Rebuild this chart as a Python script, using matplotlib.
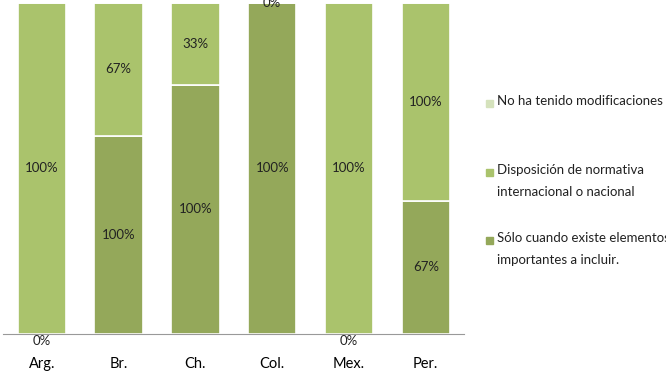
import numpy as np
import matplotlib.pyplot as plt
from matplotlib.patches import Rectangle

plt.rcParams['font.family'] = ['Lato', 'DejaVu Sans']

countries = ['Arg.', 'Br.', 'Ch.', 'Col.', 'Mex.', 'Per.']
solo_cuando = [0, 100, 100, 100, 0, 67]
disposicion = [100, 67, 33, 0, 100, 100]
no_ha_tenido = [0, 0, 0, 0, 0, 0]

series = [
    ('Sólo cuando existe elementos\nimportantes a incluir.', solo_cuando, '#94A85A'),
    ('Disposición de normativa\ninternacional o nacional', disposicion, '#AAC36C'),
    ('No ha tenido modificaciones', no_ha_tenido, '#D5E2BC'),
]

vals = np.array([s[1] for s in series], dtype=float)
totals = vals.sum(axis=0)
fracs = vals / totals

fig = plt.figure(figsize=(6.66, 3.73), dpi=100)
ax = fig.add_axes([0.005, 0.105, 0.692, 0.887])

x = np.arange(len(countries))
bottom = np.zeros(len(countries))
for i, (name, raw, color) in enumerate(series):
    h = fracs[i]
    ax.bar(x, h, bottom=bottom, width=0.63, color=color, edgecolor='white', linewidth=1.2)
    if i < 2:
        for j in range(len(countries)):
            yc = bottom[j] + h[j] / 2
            dy = 0
            if h[j] == 0 and bottom[j] == 0:
                dy = -5
            ax.annotate('%d%%' % raw[j], (x[j], yc), xytext=(0, dy), textcoords='offset points',
                        ha='center', va='center', fontsize=9.5, color='#222222',
                        annotation_clip=False)
    bottom += h

ax.set_xlim(-0.5, len(countries) - 0.5)
ax.set_ylim(0, 1)
ax.set_xticks(x)
ax.set_xticklabels(countries, fontsize=10.5)
ax.tick_params(axis='x', length=0, pad=17)
ax.set_yticks([])
for s in ['top', 'left', 'right']:
    ax.spines[s].set_visible(False)
ax.spines['bottom'].set_color('#999999')

# legend drawn in figure pixels (y = centre of first text line)
legend_items = [
    (series[2][0], series[2][2], 103),
    (series[1][0], series[1][2], 172),
    (series[0][0], series[0][2], 240),
]
W, H = 666, 373
for label, color, ypx in legend_items:
    fig.patches.append(Rectangle((486 / W, 1 - (ypx + 4) / H), 7 / W, 7 / H,
                                 transform=fig.transFigure, color=color))
    fig.text(497 / W, 1 - (ypx - 8) / H, label, fontsize=9.5, color='#222222',
             va='top', ha='left', linespacing=1.95)

fig.savefig('out.png', dpi=100)
